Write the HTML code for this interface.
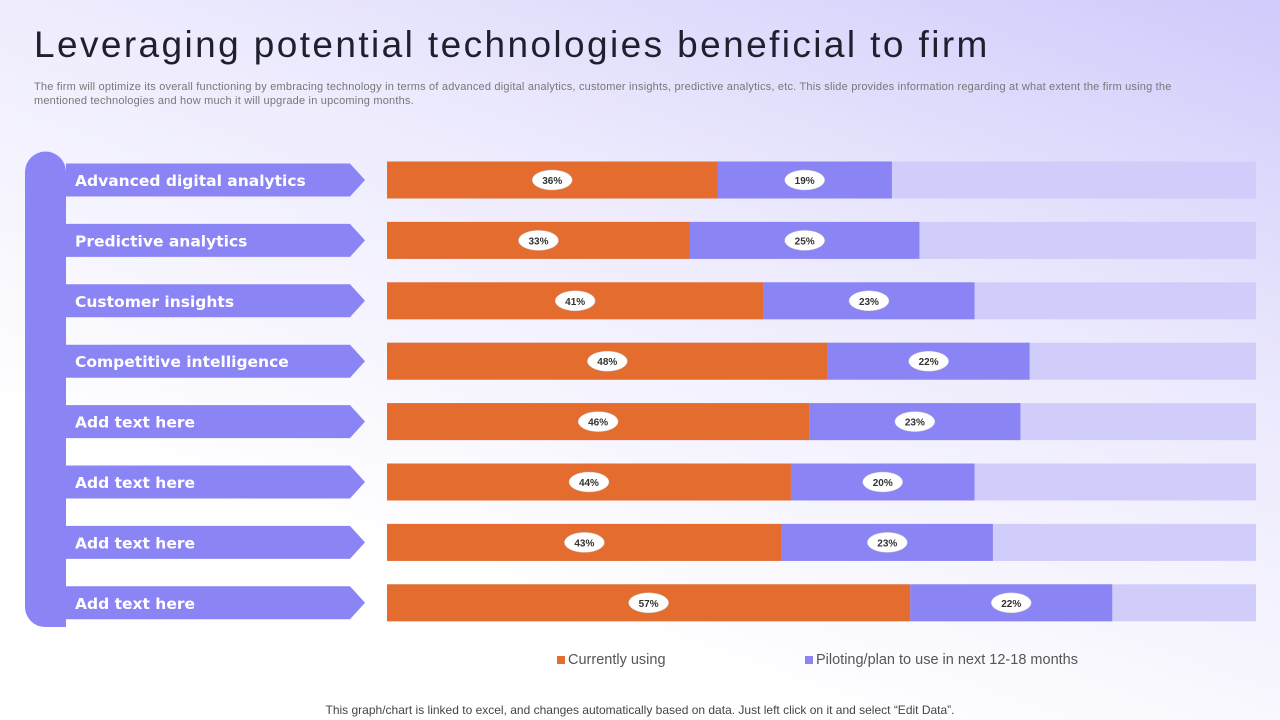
<!DOCTYPE html>
<html><head><meta charset="utf-8"><style>
body{margin:0;width:1280px;height:720px;overflow:hidden;font-family:"Liberation Sans",sans-serif;background:linear-gradient(200deg,#cfcbfb 0%,#eceafd 35%,#ffffff 75%);position:relative}
#title{position:absolute;left:34px;top:24px;font-size:37px;color:#1f1f2e;letter-spacing:2.4px;margin:0;font-weight:normal}
#sub{position:absolute;left:34px;top:80px;width:1190px;font-size:11px;letter-spacing:0.2px;color:#777;line-height:14px}
#foot{position:absolute;left:0;width:1280px;text-align:center;top:703px;font-size:12px;color:#444}
.leg{position:absolute;top:652px;font-size:14.5px;color:#555}
.leg i{display:inline-block;width:8px;height:8px;margin-right:3px}
</style></head><body>
<h1 id="title">Leveraging potential technologies beneficial to firm</h1>
<div id="sub">The firm will optimize its overall functioning by embracing technology in terms of advanced digital analytics, customer insights, predictive analytics, etc. This slide provides information regarding at what extent the firm using the mentioned technologies and how much it will upgrade in upcoming months.</div>
<svg id="chart" width="1280" height="720" style="position:absolute;left:0;top:0"></svg>
<div class="leg" style="left:557px"><i style="background:#e46c2f"></i>Currently using</div>
<div class="leg" style="left:805px"><i style="background:#8b84f5"></i>Piloting/plan to use in next 12-18 months</div>
<div id="foot">This graph/chart is linked to excel, and changes automatically based on data. Just left click on it and select “Edit Data”.</div>
<script>
const categories=["Advanced digital analytics","Predictive analytics","Customer insights","Competitive intelligence","Add text here","Add text here","Add text here","Add text here"];
const currentValues=[36,33,41,48,46,44,43,57];
const pilotValues=[19,25,23,22,23,20,23,22];
const NS="http://www.w3.org/2000/svg";
const svg=document.getElementById('chart');
const x0=387,scale=9.18,y0=180,step=60.4,bh=37;
function xs(v){return x0+v*scale;}
function yc(i){return y0+i*step;}
function mk(t,a){const e=document.createElementNS(NS,t);for(const k in a)e.setAttribute(k,a[k]);svg.appendChild(e);return e;}
const sp=mk('path',{d:'M25,172 A20,20 0 0 1 66,172 L66,627 L45,627 A20,20 0 0 1 25,607 Z',fill:'#8b84f5'});


categories.forEach((c,i)=>{
  const y=yc(i);
  const ar=mk('polygon',{points:`66,${y-16.5} 350,${y-16.5} 365,${y} 350,${y+16.5} 66,${y+16.5}`,fill:'#8b84f5'});
  
  
  const t=mk('text',{x:75,y:y+6,fill:'#fff','font-size':'15.5','font-weight':'bold','font-family':'DejaVu Sans,sans-serif'});
  t.textContent=c;
  
  
  const tr=mk('rect',{x:x0,y:y-bh/2,width:1256-x0,height:bh,fill:'#d1cdfb'});
  
  
  const a=currentValues[i],b=pilotValues[i];
  const r1=mk('rect',{x:x0,y:y-bh/2,width:xs(a)-x0,height:bh,fill:'#e46c2f'});
  
  
  const r2=mk('rect',{x:xs(a),y:y-bh/2,width:xs(a+b)-xs(a),height:bh,fill:'#8b84f5'});
  
  
  [[a,(x0+xs(a))/2],[b,(xs(a)+xs(a+b))/2]].forEach(([v,cx])=>{
    const el=mk('ellipse',{cx:cx,cy:y,rx:20,ry:10,fill:'#fff',stroke:'#ccc','stroke-width':'0.5'});
    
    
    const tt=mk('text',{x:cx,y:y+4,'text-anchor':'middle','font-size':'10','font-weight':'bold',fill:'#333','font-family':'Liberation Sans,sans-serif'});
    tt.textContent=v+'%';
    
    
  });
});
</script>
</body></html>
